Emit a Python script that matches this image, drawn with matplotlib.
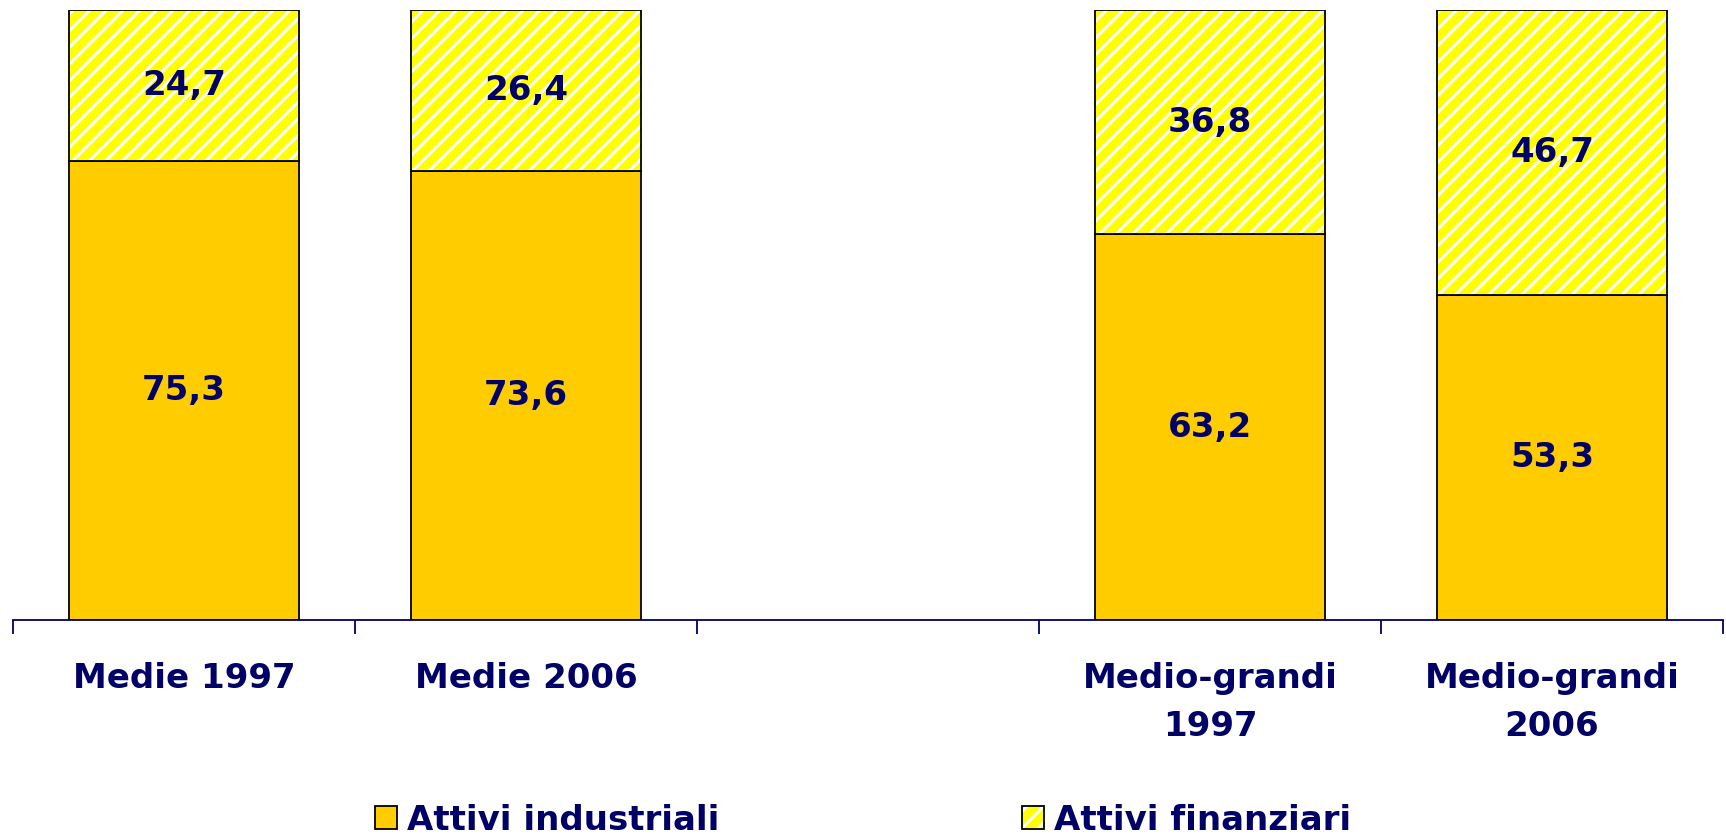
import numpy as np
import matplotlib
matplotlib.use("Agg")
import matplotlib.pyplot as plt
from matplotlib.patches import Patch

# Data
categories = ["Medie 1997", "Medie 2006", "", "Medio-grandi\n1997", "Medio-grandi\n2006"]
industriali = [75.3, 73.6, np.nan, 63.2, 53.3]
finanziari = [24.7, 26.4, np.nan, 36.8, 46.7]
labels_ind = ["75,3", "73,6", "", "63,2", "53,3"]
labels_fin = ["24,7", "26,4", "", "36,8", "46,7"]

NAVY = "#000066"
ORANGE = "#FFCC00"
YELLOW = "#FFFF00"

plt.rcParams['font.family'] = ['DejaVu Sans']
plt.rcParams['font.weight'] = 'bold'
plt.rcParams['hatch.linewidth'] = 2.2

fig = plt.figure(figsize=(17.26, 8.35), dpi=100)
ax = fig.add_axes([13 / 1726, 1 - 620 / 835, 1710 / 1726, 610 / 835])

x = np.arange(len(categories))
w = 0.67

ax.bar(x, industriali, w, color=ORANGE, edgecolor="black", linewidth=1.3)
# hatched part: white stripes on yellow, black outline on top
ax.bar(x, finanziari, w, bottom=industriali, color=YELLOW, edgecolor="white",
       hatch="//", linewidth=0)
ax.bar(x, finanziari, w, bottom=industriali, fill=False, edgecolor="black", linewidth=1.3)

for i in range(len(categories)):
    if np.isnan(industriali[i]):
        continue
    ax.text(x[i], industriali[i] / 2, labels_ind[i], ha="center", va="center",
            fontsize=24.5, color=NAVY, fontweight="bold")
    ax.text(x[i], industriali[i] + finanziari[i] / 2, labels_fin[i], ha="center",
            va="center", fontsize=24.5, color=NAVY, fontweight="bold")

ax.set_xlim(-0.5, len(categories) - 0.5)
ax.set_ylim(0, 100)
ax.set_yticks([])
for s in ["top", "right", "left"]:
    ax.spines[s].set_visible(False)
ax.spines["bottom"].set_color(NAVY)
ax.spines["bottom"].set_linewidth(1.3)

ax.set_xticks(x)
ax.set_xticklabels(categories, fontsize=24.5, color=NAVY, fontweight="bold", linespacing=1.6)
ax.tick_params(axis="x", which="major", length=0, pad=30)
ax.set_xticks(np.arange(-0.5, len(categories)), minor=True)
ax.tick_params(axis="x", which="minor", length=10, width=1.3, color=NAVY, direction="out")

h_ind = Patch(facecolor=ORANGE, edgecolor="black", linewidth=1.3)
h_fin = (Patch(facecolor=YELLOW, edgecolor="white", hatch="//", linewidth=0),
         Patch(fill=False, edgecolor="black", linewidth=1.3))
leg = fig.legend([h_ind, h_fin], ["Attivi industriali", "Attivi finanziari"],
                 loc="center", bbox_to_anchor=(0.5, 1 - 820 / 835), ncol=2,
                 frameon=False, fontsize=24.5, handlelength=0.65, handleheight=0.65,
                 handletextpad=0.3, columnspacing=8.9, borderpad=0)
for t in leg.get_texts():
    t.set_color(NAVY)
    t.set_fontweight("bold")

fig.savefig("out.png", dpi=100)
